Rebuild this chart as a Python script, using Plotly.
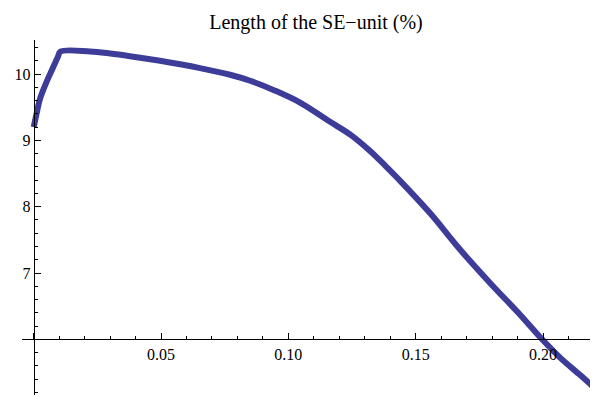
import plotly.graph_objects as go

# Data
x_vals = [0.0, 0.0010, 0.0025, 0.0050, 0.0075, 0.0095, 0.0105, 0.0221, 0.0300,
          0.0378, 0.0496, 0.0653, 0.0771, 0.0850, 0.0948, 0.1046, 0.1164, 0.1246,
          0.1321, 0.1380, 0.1439, 0.1557, 0.1675, 0.1792, 0.1910, 0.1989, 0.2068,
          0.2146, 0.2201]
y_vals = [9.20, 9.38, 9.63, 9.88, 10.09, 10.26, 10.34, 10.34, 10.31,
          10.27, 10.20, 10.09, 9.99, 9.90, 9.75, 9.57, 9.28, 9.08,
          8.84, 8.62, 8.39, 7.90, 7.35, 6.85, 6.37, 6.03, 5.72,
          5.46, 5.27]

x_tick_vals = [0.0, 0.05, 0.10, 0.15, 0.20]
x_tick_text = ["", "0.05", "0.10", "0.15", "0.20"]
y_tick_vals = [6, 7, 8, 9, 10]
y_tick_text = ["", "7", "8", "9", "10"]

title_text = "Length of the SE\u2212unit (%)"

x_range = [-0.0046, 0.2212]
y_range = [5.16, 10.514]
x_cross = 0.0   # where the y axis sits
y_cross = 6.0   # where the x axis sits

line_color = "rgb(61,61,153)"
font_family = "Liberation Serif, Times New Roman, serif"

# the page body adds an 8 px margin, so the figure is sized to fit the window
W, H = 590, 389

fig = go.Figure()
fig.add_trace(go.Scatter(x=x_vals, y=y_vals, mode="lines",
                         line=dict(color=line_color, width=6, shape="spline",
                                   smoothing=1.0),
                         hoverinfo="skip", showlegend=False))

x_pos = (y_cross - y_range[0]) / (y_range[1] - y_range[0])
y_pos = (x_cross - x_range[0]) / (x_range[1] - x_range[0])

fig.update_layout(
    width=W, height=H,
    margin=dict(l=14, r=1, t=32, b=2),
    paper_bgcolor="white", plot_bgcolor="white",
    font=dict(family=font_family, size=16, color="black"),
    title=dict(text=title_text, x=308 / W, xanchor="center", y=1 - 14 / H,
               yanchor="middle", font=dict(family=font_family, size=20, color="black")),
    xaxis=dict(range=x_range, domain=[0, 1], anchor="free", position=x_pos,
               showgrid=False, zeroline=False, showline=True, linecolor="black",
               linewidth=1, ticks="inside", ticklen=6, tickcolor="black",
               tickmode="array", tickvals=x_tick_vals, ticktext=x_tick_text,
               minor=dict(tickmode="linear", tick0=0, dtick=0.01, ticks="inside",
                          ticklen=3.5, tickcolor="black", showgrid=False),
               automargin=False),
    yaxis=dict(range=y_range, domain=[0, 1], anchor="free", position=y_pos,
               showgrid=False, zeroline=False, showline=True, linecolor="black",
               linewidth=1, ticks="inside", ticklen=6, tickcolor="black",
               tickmode="array", tickvals=y_tick_vals, ticktext=y_tick_text,
               minor=dict(tickmode="linear", tick0=0, dtick=0.2, ticks="inside",
                          ticklen=3.5, tickcolor="black", showgrid=False),
               automargin=False),
)

fig.write_html("out.html")
